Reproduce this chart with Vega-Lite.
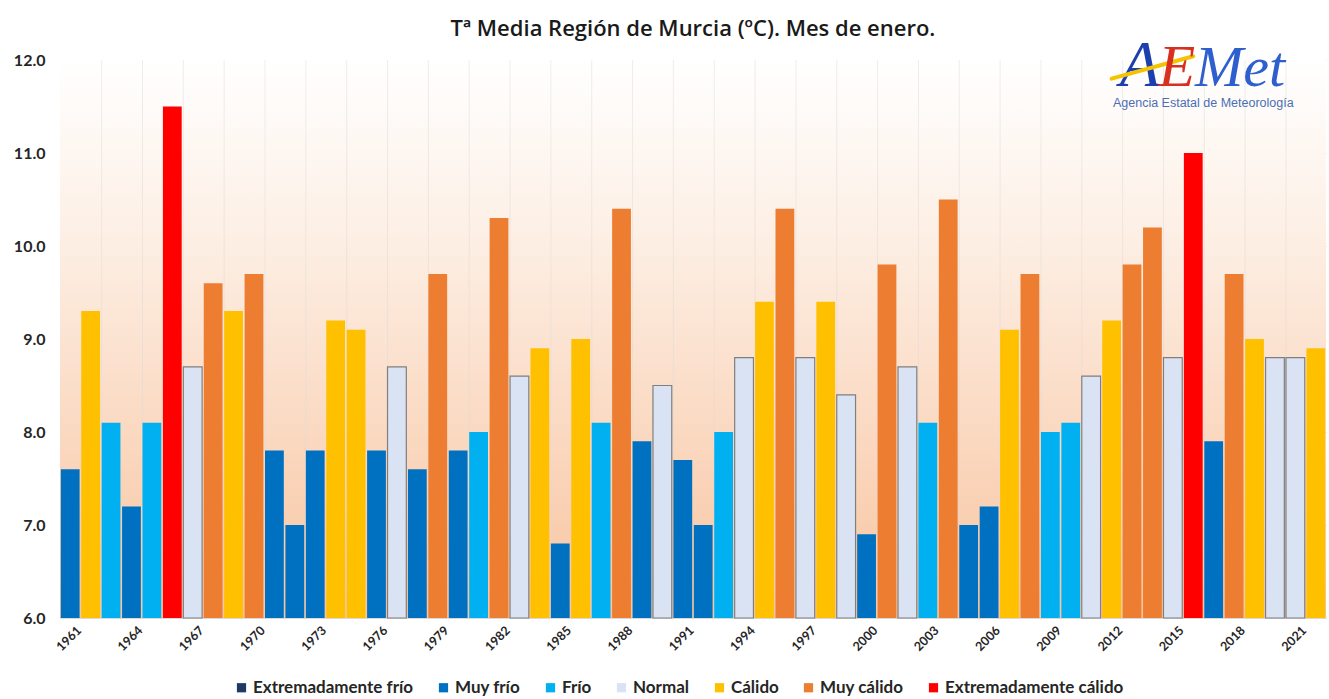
{
  "$schema": "https://vega.github.io/schema/vega-lite/v6.json",
  "width": 1266,
  "height": 558,
  "autosize": {"type": "none"},
  "padding": {"left": 60, "top": 60, "right": 3, "bottom": 81},
  "background": "#ffffff",
  "title": {
    "text": "Tª Media Región de Murcia (ºC). Mes de enero.",
    "font": "Open Sans",
    "fontSize": 22,
    "fontWeight": 600,
    "color": "#1a1a1a",
    "anchor": "middle",
    "frame": "group",
    "offset": -8
  },
  "config": {
    "view": {"stroke": null},
    "font": "Lato"
  },
  "datasets": {
    "temps": [
      {"year": 1961, "t": 7.6, "cat": "Muy frío"},
      {"year": 1962, "t": 9.3, "cat": "Cálido"},
      {"year": 1963, "t": 8.1, "cat": "Frío"},
      {"year": 1964, "t": 7.2, "cat": "Muy frío"},
      {"year": 1965, "t": 8.1, "cat": "Frío"},
      {"year": 1966, "t": 11.5, "cat": "Extremadamente cálido"},
      {"year": 1967, "t": 8.7, "cat": "Normal"},
      {"year": 1968, "t": 9.6, "cat": "Muy cálido"},
      {"year": 1969, "t": 9.3, "cat": "Cálido"},
      {"year": 1970, "t": 9.7, "cat": "Muy cálido"},
      {"year": 1971, "t": 7.8, "cat": "Muy frío"},
      {"year": 1972, "t": 7.0, "cat": "Muy frío"},
      {"year": 1973, "t": 7.8, "cat": "Muy frío"},
      {"year": 1974, "t": 9.2, "cat": "Cálido"},
      {"year": 1975, "t": 9.1, "cat": "Cálido"},
      {"year": 1976, "t": 7.8, "cat": "Muy frío"},
      {"year": 1977, "t": 8.7, "cat": "Normal"},
      {"year": 1978, "t": 7.6, "cat": "Muy frío"},
      {"year": 1979, "t": 9.7, "cat": "Muy cálido"},
      {"year": 1980, "t": 7.8, "cat": "Muy frío"},
      {"year": 1981, "t": 8.0, "cat": "Frío"},
      {"year": 1982, "t": 10.3, "cat": "Muy cálido"},
      {"year": 1983, "t": 8.6, "cat": "Normal"},
      {"year": 1984, "t": 8.9, "cat": "Cálido"},
      {"year": 1985, "t": 6.8, "cat": "Muy frío"},
      {"year": 1986, "t": 9.0, "cat": "Cálido"},
      {"year": 1987, "t": 8.1, "cat": "Frío"},
      {"year": 1988, "t": 10.4, "cat": "Muy cálido"},
      {"year": 1989, "t": 7.9, "cat": "Muy frío"},
      {"year": 1990, "t": 8.5, "cat": "Normal"},
      {"year": 1991, "t": 7.7, "cat": "Muy frío"},
      {"year": 1992, "t": 7.0, "cat": "Muy frío"},
      {"year": 1993, "t": 8.0, "cat": "Frío"},
      {"year": 1994, "t": 8.8, "cat": "Normal"},
      {"year": 1995, "t": 9.4, "cat": "Cálido"},
      {"year": 1996, "t": 10.4, "cat": "Muy cálido"},
      {"year": 1997, "t": 8.8, "cat": "Normal"},
      {"year": 1998, "t": 9.4, "cat": "Cálido"},
      {"year": 1999, "t": 8.4, "cat": "Normal"},
      {"year": 2000, "t": 6.9, "cat": "Muy frío"},
      {"year": 2001, "t": 9.8, "cat": "Muy cálido"},
      {"year": 2002, "t": 8.7, "cat": "Normal"},
      {"year": 2003, "t": 8.1, "cat": "Frío"},
      {"year": 2004, "t": 10.5, "cat": "Muy cálido"},
      {"year": 2005, "t": 7.0, "cat": "Muy frío"},
      {"year": 2006, "t": 7.2, "cat": "Muy frío"},
      {"year": 2007, "t": 9.1, "cat": "Cálido"},
      {"year": 2008, "t": 9.7, "cat": "Muy cálido"},
      {"year": 2009, "t": 8.0, "cat": "Frío"},
      {"year": 2010, "t": 8.1, "cat": "Frío"},
      {"year": 2011, "t": 8.6, "cat": "Normal"},
      {"year": 2012, "t": 9.2, "cat": "Cálido"},
      {"year": 2013, "t": 9.8, "cat": "Muy cálido"},
      {"year": 2014, "t": 10.2, "cat": "Muy cálido"},
      {"year": 2015, "t": 8.8, "cat": "Normal"},
      {"year": 2016, "t": 11.0, "cat": "Extremadamente cálido"},
      {"year": 2017, "t": 7.9, "cat": "Muy frío"},
      {"year": 2018, "t": 9.7, "cat": "Muy cálido"},
      {"year": 2019, "t": 9.0, "cat": "Cálido"},
      {"year": 2020, "t": 8.8, "cat": "Normal"},
      {"year": 2021, "t": 8.8, "cat": "Normal"},
      {"year": 2022, "t": 8.9, "cat": "Cálido"}
    ]
  },
  "layer": [
    {
      "data": {"values": [{"lo": 6, "hi": 12}]},
      "mark": {
        "type": "rect",
        "color": {
          "gradient": "linear",
          "x1": 0, "y1": 0, "x2": 0, "y2": 1,
          "stops": [
            {"offset": 0, "color": "#ffffff"},
            {"offset": 0.3, "color": "#fdf0e6"},
            {"offset": 1, "color": "#f8c4a0"}
          ]
        }
      },
      "encoding": {
        "y": {"field": "lo", "type": "quantitative", "scale": {"domain": [6, 12], "nice": false, "zero": false}},
        "y2": {"field": "hi"}
      }
    },
    {
      "data": {"values": [{"year": 1963}, {"year": 1965}, {"year": 1967}, {"year": 1969}, {"year": 1971}, {"year": 1973}, {"year": 1975}, {"year": 1977}, {"year": 1979}, {"year": 1981}, {"year": 1983}, {"year": 1985}, {"year": 1987}, {"year": 1989}, {"year": 1991}, {"year": 1993}, {"year": 1995}, {"year": 1997}, {"year": 1999}, {"year": 2001}, {"year": 2003}, {"year": 2005}, {"year": 2007}, {"year": 2009}, {"year": 2011}, {"year": 2013}, {"year": 2015}, {"year": 2017}, {"year": 2019}, {"year": 2021}]},
      "mark": {"type": "rule", "color": "#d9d9d9", "opacity": 0.45, "strokeWidth": 1},
      "encoding": {
        "x": {"field": "year", "type": "ordinal", "bandPosition": 0}
      }
    },
    {
      "data": {"name": "temps"},
      "mark": {"type": "bar", "strokeWidth": 1.2},
      "encoding": {
        "x": {
          "field": "year",
          "type": "ordinal",
          "scale": {"paddingInner": 0.08, "paddingOuter": 0.04},
          "axis": {
            "title": null,
            "values": [1961, 1964, 1967, 1970, 1973, 1976, 1979, 1982, 1985, 1988, 1991, 1994, 1997, 2000, 2003, 2006, 2009, 2012, 2015, 2018, 2021],
            "labelAngle": -45,
            "labelFont": "Lato",
            "labelFontWeight": "bold",
            "labelFontSize": 12.5,
            "labelColor": "#262626",
            "labelPadding": 10,
            "labelOffset": 9,
            "ticks": false,
            "domain": true,
            "domainColor": "#d9d9d9",
            "grid": false
          }
        },
        "y": {
          "field": "t",
          "type": "quantitative",
          "scale": {"domain": [6, 12], "nice": false, "zero": false},
          "axis": {
            "title": null,
            "values": [6, 7, 8, 9, 10, 11, 12],
            "format": ".1f",
            "labelFont": "Lato",
            "labelFontWeight": "bold",
            "labelFontSize": 16,
            "labelColor": "#262626",
            "labelPadding": 15,
            "ticks": false,
            "domain": false,
            "grid": true,
            "gridColor": "#d9d9d9",
            "gridWidth": 1
          }
        },
        "y2": {"datum": 6},
        "color": {
          "field": "cat",
          "type": "nominal",
          "scale": {
            "domain": ["Extremadamente frío", "Muy frío", "Frío", "Normal", "Cálido", "Muy cálido", "Extremadamente cálido"],
            "range": ["#203864", "#0070C0", "#00B0F0", "#DAE3F3", "#FFC000", "#ED7D31", "#FF0000"]
          },
          "legend": {
            "title": null,
            "orient": "none",
            "legendX": 173,
            "legendY": 619,
            "direction": "horizontal",
            "symbolType": "square",
            "symbolSize": 85,
            "symbolStrokeWidth": 0,
            "labelFont": "Lato",
            "labelFontSize": 17,
            "labelFontWeight": "bold",
            "labelColor": "#262626",
            "labelOffset": 3,
            "labelLimit": 400,
            "columnPadding": 21,
            "encode": {
              "symbols": {
                "update": {
                  "stroke": {"signal": "datum.label === 'Normal' ? '#7f7f7f' : 'transparent'"},
                  "strokeWidth": {"value": 1}
                }
              }
            }
          }
        },
        "stroke": {
          "condition": {"test": "datum.cat === 'Normal'", "value": "#7f7f7f"},
          "value": null
        }
      }
    },
    {
      "data": {"values": [{"year": 2013, "y": 11.72, "txt": "A"}]},
      "mark": {"type": "text", "font": "Liberation Serif", "fontStyle": "italic", "fontSize": 66, "color": "#1d3fae", "align": "center", "baseline": "alphabetic", "dx": 8},
      "encoding": {"x": {"field": "year", "type": "ordinal"}, "y": {"field": "y", "type": "quantitative"}, "text": {"field": "txt"}}
    },
    {
      "data": {"values": [{"year": 2012, "y": 11.8, "year2": 2016, "y2": 12.04}]},
      "mark": {"type": "rule", "color": "#f5c400", "strokeWidth": 4, "strokeCap": "round"},
      "encoding": {"x": {"field": "year", "type": "ordinal"}, "y": {"field": "y", "type": "quantitative"}, "x2": {"field": "year2"}, "y2": {"field": "y2"}}
    },
    {
      "data": {"values": [{"year": 2015, "y": 11.72, "txt": "E"}]},
      "mark": {"type": "text", "font": "Liberation Serif", "fontStyle": "italic", "fontSize": 60, "color": "#d8301f", "align": "center", "baseline": "alphabetic", "dx": 4},
      "encoding": {"x": {"field": "year", "type": "ordinal"}, "y": {"field": "y", "type": "quantitative"}, "text": {"field": "txt"}}
    },
    {
      "data": {"values": [{"year": 2018, "y": 11.72, "txt": "Met"}]},
      "mark": {"type": "text", "font": "Liberation Serif", "fontStyle": "italic", "fontSize": 58, "color": "#2f5fcf", "align": "center", "baseline": "alphabetic", "dx": 6},
      "encoding": {"x": {"field": "year", "type": "ordinal"}, "y": {"field": "y", "type": "quantitative"}, "text": {"field": "txt"}}
    },
    {
      "data": {"values": [{"year": 2016, "y": 11.49, "txt": "Agencia Estatal de Meteorología"}]},
      "mark": {"type": "text", "font": "Liberation Sans", "fontSize": 12.5, "color": "#4a6fb5", "align": "center", "baseline": "alphabetic", "dx": 10},
      "encoding": {"x": {"field": "year", "type": "ordinal"}, "y": {"field": "y", "type": "quantitative"}, "text": {"field": "txt"}}
    }
  ]
}
